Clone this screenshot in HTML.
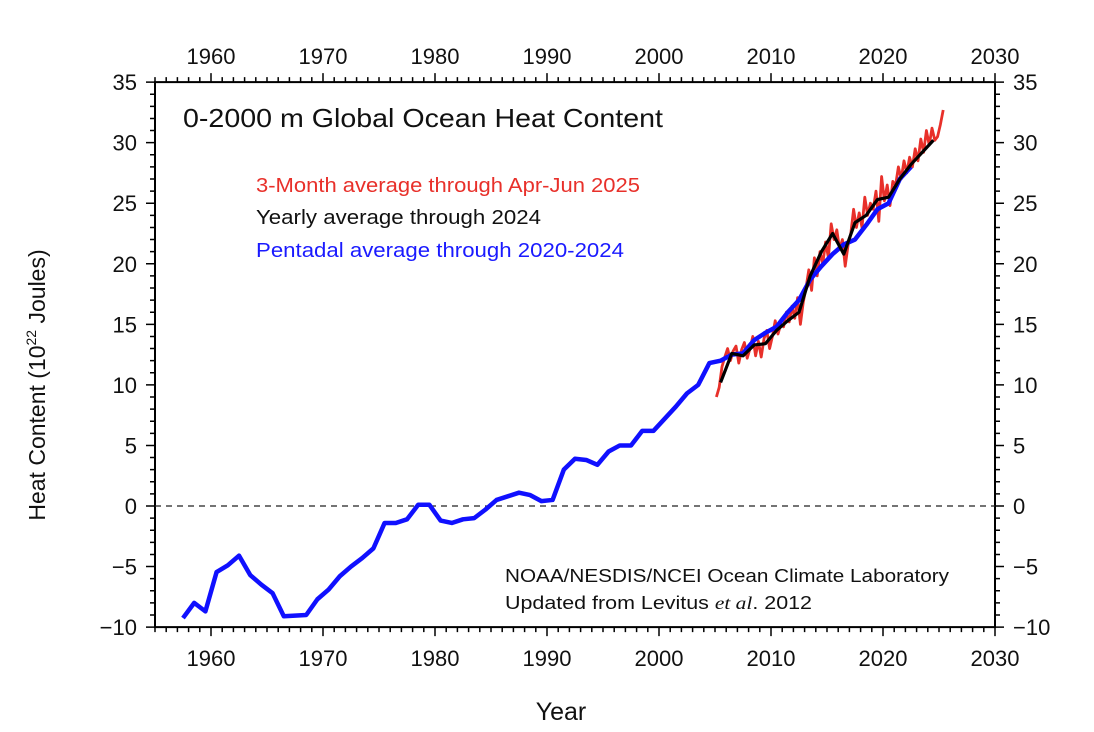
<!DOCTYPE html>
<html><head><meta charset="utf-8"><style>
body{margin:0;background:#fff;}
svg{display:block;font-family:"Liberation Sans",sans-serif;}
</style></head><body>
<svg id="chart" width="1094" height="732">
<rect width="1094" height="732" fill="#fff"/>
<g id="axes"></g>
<g id="series"></g>
<text x="183" y="127" font-size="26" textLength="480" lengthAdjust="spacingAndGlyphs" fill="#111">0-2000 m Global Ocean Heat Content</text>
<text x="256" y="192" font-size="20" textLength="384" lengthAdjust="spacingAndGlyphs" fill="#e8302a">3-Month average through Apr-Jun 2025</text>
<text x="256" y="224" font-size="20" textLength="285" lengthAdjust="spacingAndGlyphs" fill="#111">Yearly average through 2024</text>
<text x="256" y="257" font-size="20" textLength="368" lengthAdjust="spacingAndGlyphs" fill="#1a1aff">Pentadal average through 2020-2024</text>
<text x="505" y="582" font-size="18" textLength="444" lengthAdjust="spacingAndGlyphs" fill="#111">NOAA/NESDIS/NCEI Ocean Climate Laboratory</text>
<text x="505" y="609" font-size="18" fill="#111" textLength="307" lengthAdjust="spacingAndGlyphs">Updated from Levitus <tspan font-family="Liberation Serif" font-style="italic">et al</tspan>. 2012</text>
<text x="561" y="720" font-size="25" text-anchor="middle" fill="#111">Year</text>
<text transform="translate(45,385) rotate(-90)" font-size="23" text-anchor="middle" fill="#111">Heat Content (10<tspan font-size="14" dy="-9">22</tspan><tspan dy="9"> Joules)</tspan></text>
</svg>
<script>
const xTicks=[1960,1970,1980,1990,2000,2010,2020,2030];
const yTicks=[-10,-5,0,5,10,15,20,25,30,35];
const pentYears=[];for(let y=1957.5;y<=2022.5;y++)pentYears.push(y);
const pentVals=[-9.25,-8.0,-8.7,-5.45,-4.9,-4.1,-5.7,-6.5,-7.2,-9.1,-9.05,-9.0,-7.7,-6.9,-5.8,-5.0,-4.3,-3.5,-1.4,-1.4,-1.1,0.1,0.1,-1.2,-1.4,-1.1,-1.0,-0.3,0.5,0.8,1.1,0.9,0.4,0.5,3.0,3.9,3.8,3.4,4.5,5.0,5.0,6.2,6.2,7.2,8.2,9.3,10.0,11.8,12.0,12.5,12.6,13.7,14.3,14.8,16.0,17.0,18.7,19.8,20.8,21.6,22.0,23.2,24.5,25.0,27.0,28.0];
const yearYears=[];for(let y=2005.5;y<=2024.5;y++)yearYears.push(y);
const yearVals=[10.2,12.6,12.4,13.3,13.4,14.5,15.3,16.0,19.0,21.0,22.5,20.8,23.4,24.0,25.3,25.5,27.0,28.2,29.2,30.2];
const qVals=[9.0,9.8,11.5,12.3,13.0,12.0,12.8,13.2,11.8,12.9,13.5,12.2,13.0,14.0,12.4,13.6,12.3,13.8,14.5,13.0,14.0,15.3,14.2,15.0,14.8,16.0,15.2,16.5,15.5,17.2,15.0,16.8,18.0,19.5,17.8,20.5,19.0,21.0,20.0,21.8,20.5,23.3,22.0,22.8,21.2,22.0,19.8,21.5,22.5,24.5,23.0,24.2,23.0,25.5,24.0,25.0,24.5,26.0,23.5,27.2,25.2,26.5,24.8,26.8,26.5,28.0,27.0,28.5,27.5,28.8,28.0,29.5,28.5,30.3,29.2,31.0,29.8,31.2,30.2,30.5,31.5,32.7];
const qYears=qVals.map((v,i)=>2005.125+i*0.25);
const X=y=>155+(y-1955)*11.2, Y=v=>506-v*12.111;
const NS="http://www.w3.org/2000/svg";
function mk(t,a,p){const e=document.createElementNS(NS,t);for(const k in a)e.setAttribute(k,a[k]);p.appendChild(e);return e;}
const ax=document.getElementById('axes'),se=document.getElementById('series');
const L=155,R=995,T=Y(35),B=Y(-10);
const frame=mk('rect',{x:L,y:T,width:R-L,height:B-T,fill:'none',stroke:'#000','stroke-width':2},ax);


const zl=mk('line',{x1:L,x2:R,y1:Y(0),y2:Y(0),stroke:'#222','stroke-dasharray':'6,5','stroke-width':1.2},ax);


let d='';
for(let yr=1955;yr<=2030;yr++){const len=yr%10==0?9:5;const x=X(yr);d+=`M${x},${B}v${len}M${x},${T}v${-len}`;}
for(let v=-10;v<=35;v++){const len=v%5==0?9:5;const y=Y(v);d+=`M${L},${y}h${-len}M${R},${y}h${len}`;}
const tk=mk('path',{d:d,stroke:'#000','stroke-width':1.5,fill:'none'},ax);


xTicks.forEach(t=>{
 const a=mk('text',{x:X(t),y:B+39,'font-size':22,'text-anchor':'middle',fill:'#111'},ax);a.textContent=t;
 
 
 const b=mk('text',{x:X(t),y:T-18,'font-size':22,'text-anchor':'middle',fill:'#111'},ax);b.textContent=t;
 
 
});
yTicks.forEach(t=>{
 const s=t<0?'\u2212'+(-t):''+t;
 const a=mk('text',{x:L-18,y:Y(t)+8,'font-size':22,'text-anchor':'end',fill:'#111'},ax);a.textContent=s;
 
 
 const b=mk('text',{x:R+18,y:Y(t)+8,'font-size':22,'text-anchor':'start',fill:'#111'},ax);b.textContent=s;
 
 
});
function line(xs,vs,col,w){return mk('polyline',{points:xs.map((x,i)=>X(x)+','+Y(vs[i])).join(' '),fill:'none',stroke:col,'stroke-width':w,'stroke-linejoin':'round'},se);}
const r=line(qYears,qVals,'#e8302a',2.8);


const p=line(pentYears,pentVals,'#1010ff',4.5);


const k=line(yearYears,yearVals,'#000',3.2);


</script>
</body></html>
